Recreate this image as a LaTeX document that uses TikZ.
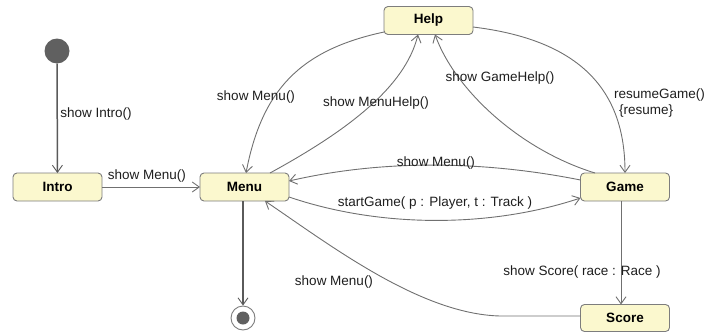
\documentclass[tikz,border=0pt]{standalone}
\usepackage{fontspec}
\setmainfont{Liberation Sans}
\usetikzlibrary{arrows.meta}
\definecolor{boxfill}{RGB}{251,248,206}
\definecolor{boxline}{RGB}{125,125,125}
\definecolor{edgeline}{RGB}{112,112,112}
\definecolor{darkline}{RGB}{90,90,90}
\definecolor{dotfill}{RGB}{96,96,96}
\definecolor{labeltext}{RGB}{30,30,30}
\tikzset{
  statebox/.style={draw=boxline, fill=boxfill, line width=0.9pt, rounded corners=4pt,
    minimum width=89pt, minimum height=28pt, inner sep=0pt, outer sep=0pt,
    font=\fontsize{13.5}{15}\selectfont\bfseries, text=black},
  trans/.style={draw=edgeline, line width=0.9pt, -{Straight Barb[length=7pt,width=10pt]}},
  maintrans/.style={draw=darkline, line width=1.5pt, -{Straight Barb[length=7pt,width=10pt,line width=0.9pt]}},
  lbl/.style={font=\fontsize{13.5}{16}\selectfont, text=labeltext, inner sep=0pt}
}
\begin{document}
\begin{tikzpicture}[x=1pt,y=-1pt]
\useasboundingbox (0,0) rectangle (704,332);
% states
\node[circle, fill=dotfill, minimum size=25pt, inner sep=0pt] (init) at (57,51) {};
\node[statebox] (intro) at (57.5,187) {Intro};
\node[statebox] (menu) at (244.5,187) {Menu};
\node[statebox] (help) at (428.5,20.5) {Help};
\node[statebox] (game) at (625,187) {Game};
\node[statebox, minimum height=27pt] (score) at (625,318) {Score};
\node[circle, draw=boxline, fill=white, line width=0.9pt, minimum size=24pt, inner sep=0pt] (final) at (243,318) {};
\fill[dotfill] (final.center) circle (6.5pt);
% connectors
\draw[maintrans] (init) -- (intro);
\draw[trans] (intro) -- (menu);
\draw[maintrans] ([xshift=-1.5pt]menu.south) -- (final);
\draw[trans] ([yshift=-11.5pt]help.west) .. controls (300,50) and (262,90) .. ([xshift=1.5pt]menu.north);
\draw[trans] ([xshift=25.5pt]menu.north) .. controls (345,132) and (405,88) .. ([xshift=-10.5pt]help.south);
\draw[trans] ([xshift=-30pt]game.north) .. controls (520,150) and (455,90) .. ([xshift=6.5pt]help.south);
\draw[trans] ([yshift=-6.5pt]help.east) .. controls (580,40) and (625,90) .. (game.north);
\draw[trans] ([yshift=7pt]game.west) .. controls (480,160) and (380,160) .. ([yshift=6pt]menu.east);
\draw[trans] ([yshift=-10pt]menu.east) .. controls (380,228) and (490,228) .. ([yshift=-11pt]game.west);
\draw[trans] ([xshift=-4pt]game.south) -- ([xshift=-4pt]score.north);
\draw[trans] ([yshift=2pt]score.west) -- (500,316) .. controls (420,314) and (330,245) .. ([xshift=20.5pt]menu.south);
% labels
\node[lbl] (l1) at (96,114) {show Intro()};
\node[lbl] (l2) at (147,176) {show Menu()};
\node[lbl] (l3) at (256,97) {show Menu()};
\node[lbl] (l4) at (376,103) {show MenuHelp()};
\node[lbl] (l5) at (500,78) {show GameHelp()};
\node[lbl, align=left, anchor=north west] (l6) at (614,89) {resumeGame()\\\hspace*{5pt}\{resume\}};
\node[lbl] (l7) at (436,163) {show Menu()};
\node[lbl] (l8) at (435,203) {startGame( p : Player, t : Track )};
\node[lbl] (l9) at (582,272) {show Score( race : Race )};
\node[lbl] (l10) at (334,282) {show Menu()};
\end{tikzpicture}
\end{document}
